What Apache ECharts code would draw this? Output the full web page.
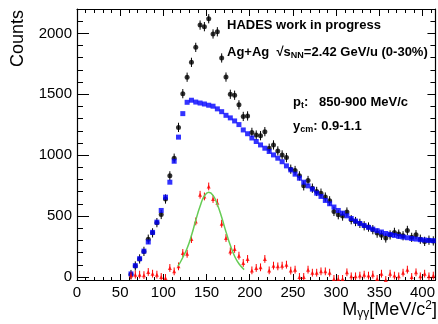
<!DOCTYPE html>
<html>
<head>
<meta charset="utf-8">
<script src="https://cdn.jsdelivr.net/npm/echarts@6.0.0/dist/echarts.min.js"></script>
<style>
  html, body { margin: 0; padding: 0; background: #fff; }
  #chart { width: 438px; height: 324px; }
</style>
</head>
<body>
<div id="chart"></div>
<script>
// bin centres (MeV/c^2), 5 MeV bins
const massBins = [];
for (let m = 62.5; m <= 412.5; m += 5) massBins.push(m);

// same-event spectrum (black)
const sameEvent = [
  20, 90, 148, 210, 310, 362, 446, 513, 640, 830,
  975, 1228, 1505, 1640, 1762, 1885, 2068, 2055, 2120, 1995,
  2013, 1798, 1641, 1500, 1492, 1413, 1318, 1322, 1187, 1165,
  1160, 1193, 1057, 1084, 1035, 1002, 980, 885, 874, 830,
  748, 792, 729, 702, 688, 656, 625, 538, 511, 500,
  533, 470, 455, 440, 420, 410, 388, 360, 342, 320,
  345, 366, 352, 338, 382, 325, 347, 310, 292, 302, 296
];

// mixed-event background (blue)
const mixedEvent = [
  25, 93, 150, 212, 287, 366, 450, 546, 655, 778,
  950, 1148, 1341, 1434, 1451, 1436, 1428, 1420, 1410, 1402,
  1380, 1357, 1327, 1306, 1281, 1251, 1207, 1176, 1141, 1112,
  1084, 1057, 1030, 1002, 975, 946, 912, 879, 844, 811,
  778, 748, 721, 688, 661, 628, 601, 574, 546, 524,
  502, 480, 459, 439, 423, 407, 393, 380, 369, 357,
  349, 341, 333, 328, 322, 316, 311, 306, 303, 300, 298
];

// subtracted signal (red)
const signal = [
  11, 19, 19, 15, 41, 27, 19, 0, -8, 74,
  46, 87, 197, 190, 311, 456, 675, 661, 743, 640,
  610, 437, 320, 210, 230, 175, 115, 148, 54, 74,
  79, 148, 54, 93, 87, 93, 101, 52, 60, 0,
  0, 60, 35, 35, 46, 46, 35, -16, -16, -16,
  38, 5, 5, 11, 19, 11, 19, -16, 27, -25,
  27, 11, 5, 35, 60, 0, 38, 5, 27, 5, 11
];

// fit curve (green)
const fitMass = [117, 122.5, 127.5, 132.5, 137.5, 142.5, 147.5, 152.5, 157.5, 162.5, 167.5, 172.5, 177.5, 182.5, 187.5, 193.5];
const fitCounts = [88, 160, 235, 340, 465, 580, 665, 695, 670, 595, 490, 370, 260, 170, 108, 60];

const xMajor = [0, 50, 100, 150, 200, 250, 300, 350, 400];
const xMinor = [];
for (let v = 0; v <= 410; v += 10) xMinor.push(v);
const yMajor = [0, 500, 1000, 1500, 2000];
const yMinor = [];
for (let v = 0; v <= 2200; v += 100) yMinor.push(v);

const FONT = '"Liberation Sans", Arial, Helvetica, sans-serif';

const chart = echarts.init(document.getElementById('chart'));

function xAx(pos, ticks, len, showLine, showLabel) {
  return {
    type: 'value', position: pos, min: 0, max: 415,
    axisLine: { show: showLine, onZero: false, lineStyle: { color: '#000', width: 1.2 } },
    axisTick: { show: true, inside: true, length: len, customValues: ticks, lineStyle: { color: '#000', width: 1 } },
    axisLabel: {
      show: showLabel, customValues: xMajor, margin: 5, color: '#000', fontSize: 15, fontFamily: FONT,
      formatter: (v) => String(v)
    },
    splitLine: { show: false }
  };
}
function yAx(pos, ticks, len, showLine, showLabel) {
  return {
    type: 'value', position: pos, min: -25, max: 2200,
    axisLine: { show: showLine, onZero: false, lineStyle: { color: '#000', width: 1.2 } },
    axisTick: { show: true, inside: true, length: len, customValues: ticks, lineStyle: { color: '#000', width: 1 } },
    axisLabel: {
      show: showLabel, customValues: yMajor, margin: 5, color: '#000', fontSize: 15, fontFamily: FONT,
      formatter: (v) => String(v)
    },
    splitLine: { show: false }
  };
}

function errorBars(values, err, color, z) {
  return {
    type: 'custom',
    xAxisIndex: 0, yAxisIndex: 0,
    silent: true, z: z, clip: true,
    data: massBins.map((m, i) => [m, values[i] - err, values[i] + err]),
    encode: { x: 0, y: [1, 2] },
    renderItem: (params, api) => {
      const lo = api.coord([api.value(0), api.value(1)]);
      const hi = api.coord([api.value(0), api.value(2)]);
      return { type: 'line', shape: { x1: lo[0], y1: lo[1], x2: hi[0], y2: hi[1] }, style: { stroke: color, lineWidth: 1 } };
    }
  };
}

const subStyle = { fontSize: 9, fontWeight: 'bold', fontFamily: FONT, padding: [7, 0, 0, 0] };

const option = {
  animation: false,
  grid: { left: 77, right: 1, top: 9, bottom: 44 },
  xAxis: [
    xAx('bottom', xMajor, 6, true, true),
    xAx('bottom', xMinor, 3, false, false),
    xAx('top', xMajor, 7, true, false),
    xAx('top', xMinor, 4, false, false)
  ],
  yAxis: [
    yAx('left', yMajor, 12, true, true),
    yAx('left', yMinor, 6, false, false),
    yAx('right', yMajor, 8, true, false),
    yAx('right', yMinor, 5, false, false)
  ],
  series: [
    errorBars(sameEvent, 38, '#000', 2),
    {
      name: 'same event', type: 'scatter', symbol: 'circle', symbolSize: 5, z: 3,
      itemStyle: { color: '#000' },
      data: massBins.map((m, i) => [m, sameEvent[i]])
    },
    {
      name: 'mixed event', type: 'scatter', symbol: 'rect', symbolSize: 5, z: 4,
      itemStyle: { color: '#0000ff' },
      data: massBins.map((m, i) => [m, mixedEvent[i]])
    },
    errorBars(signal, 32, '#ff0000', 5),
    {
      name: 'signal', type: 'scatter', symbol: 'triangle', symbolSize: 4, z: 6,
      itemStyle: { color: '#ff0000' },
      data: massBins.map((m, i) => [m, signal[i]])
    },
    {
      name: 'fit', type: 'line', smooth: true, showSymbol: false, z: 7,
      lineStyle: { color: '#66cc55', width: 1.5 },
      data: fitMass.map((m, i) => [m, fitCounts[i]])
    }
  ],
  graphic: [
    {
      type: 'text', x: 18, y: 10, rotation: Math.PI / 2,
      style: { text: 'Counts', fill: '#000', font: '18px ' + FONT, align: 'right', verticalAlign: 'middle' }
    },
    {
      type: 'text', x: 437, y: 310,
      style: {
        text: 'M{g|γγ}[MeV/c{sup|2}]', fill: '#000', font: '18px ' + FONT, align: 'right', verticalAlign: 'middle',
        rich: {
          g: { fontSize: 12, fontFamily: FONT, padding: [8, 0, 0, 0] },
          sup: { fontSize: 12, fontFamily: FONT, padding: [0, 0, 8, 0] }
        }
      }
    },
    {
      type: 'text', x: 227, y: 25,
      style: { text: 'HADES work in progress', fill: '#000', font: 'bold 13px ' + FONT, verticalAlign: 'middle' }
    },
    {
      type: 'text', x: 227, y: 52,
      style: {
        text: 'Ag+Ag  √s{sub|NN}=2.42 GeV/u (0-30%)', fill: '#000', font: 'bold 13px ' + FONT, verticalAlign: 'middle',
        rich: { sub: subStyle }
      }
    },
    {
      type: 'text', x: 293, y: 102,
      style: {
        text: 'p{sub|t}:   850-900 MeV/c', fill: '#000', font: 'bold 13px ' + FONT, verticalAlign: 'middle',
        rich: { sub: subStyle }
      }
    },
    {
      type: 'text', x: 293, y: 126,
      style: {
        text: 'y{sub|cm}: 0.9-1.1', fill: '#000', font: 'bold 13px ' + FONT, verticalAlign: 'middle',
        rich: { sub: subStyle }
      }
    }
  ]
};

chart.setOption(option);
</script>
</body>
</html>
